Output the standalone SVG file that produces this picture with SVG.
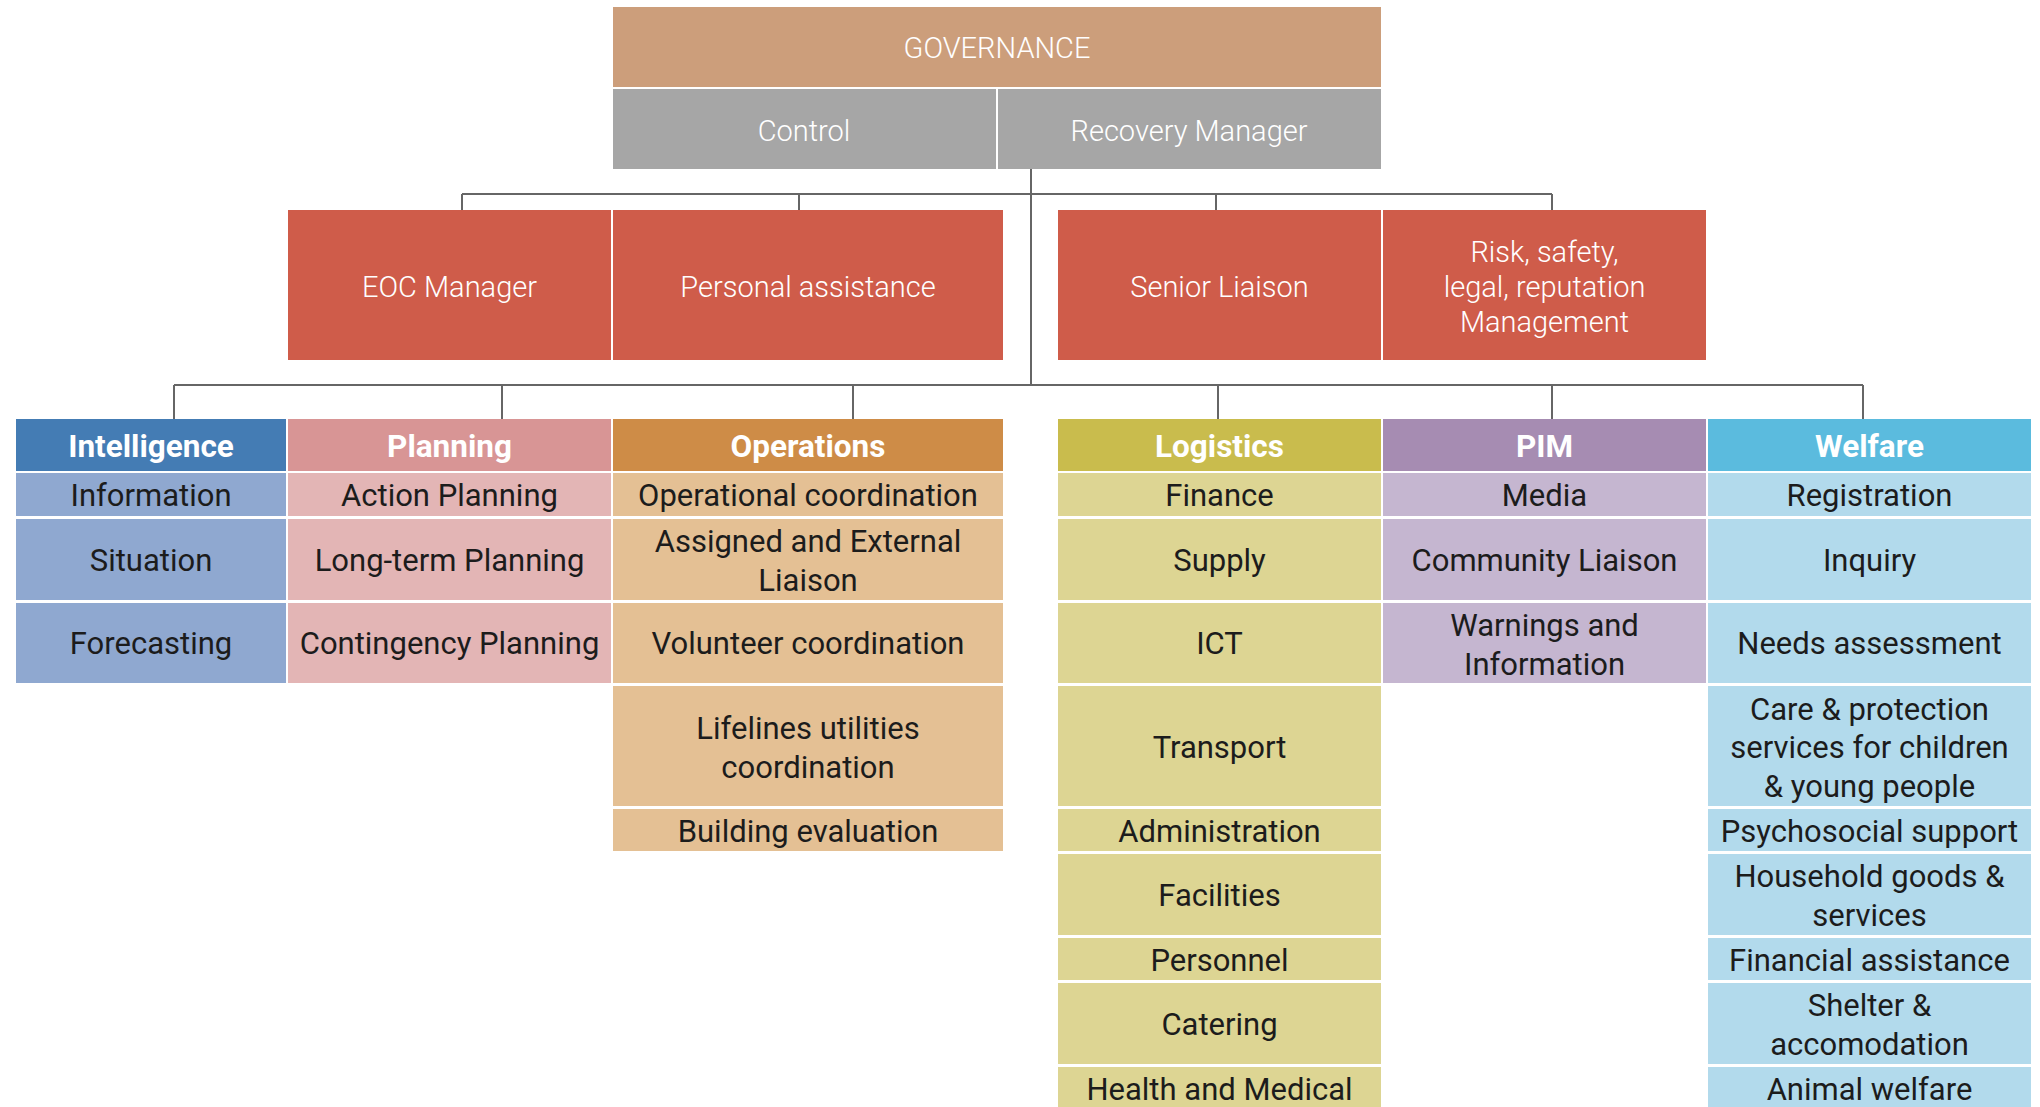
<svg xmlns="http://www.w3.org/2000/svg" width="2040" height="1107" viewBox="0 0 2040 1107">
<style>
text{font-family:Roboto,"Liberation Sans",sans-serif;text-anchor:middle}
.top{fill:#fff;font-size:29px;font-weight:300}
.hd{fill:#fff;font-size:31.5px;font-weight:700}
.bd{fill:#1c1c1c;font-size:31px}
.ln{stroke:#666;stroke-width:2;fill:none}
.gov{fill:#CC9E7B}.gry{fill:#A6A6A6}.red{fill:#CF5C4A}
.h1{fill:#447CB4}.r1{fill:#8FA8D0}
.h2{fill:#D89595}.r2{fill:#E3B5B5}
.h3{fill:#CE8C47}.r3{fill:#E4C094}
.h4{fill:#C9BC4D}.r4{fill:#DDD593}
.h5{fill:#A68CB2}.r5{fill:#C5B6D0}
.h6{fill:#5BBBDE}.r6{fill:#B2DAEC}
</style>
<rect width="2040" height="1107" fill="#fff"/>
<g id="connectors">
<path class="ln" d="M1031 169V385M462 194H1552M462 194V210M799 194V210M1216 194V210M1552 194V210M174 385H1863M174 385V419M502 385V419M853 385V419M1218 385V419M1552 385V419M1863 385V419"/>
</g>
<g id="governance"><rect class="gov" x="613" y="7" width="768" height="80"/><text class="top" x="997" y="58">GOVERNANCE</text></g>
<g id="control"><rect class="gry" x="613" y="89" width="383" height="80"/><text class="top" x="804" y="141">Control</text></g>
<g id="recovery-manager"><rect class="gry" x="998" y="89" width="383" height="80"/><text class="top" x="1189" y="141">Recovery Manager</text></g>
<g id="eoc-manager"><rect class="red" x="288" y="210" width="323" height="150"/><text class="top" x="449.5" y="297">EOC Manager</text></g>
<g id="personal-assistance"><rect class="red" x="613" y="210" width="390" height="150"/><text class="top" x="808" y="297">Personal assistance</text></g>
<g id="senior-liaison"><rect class="red" x="1058" y="210" width="323" height="150"/><text class="top" x="1219.5" y="297">Senior Liaison</text></g>
<g id="risk"><rect class="red" x="1383" y="210" width="323" height="150"/><text class="top" x="1544.5" y="262">Risk, safety,</text><text class="top" x="1544.5" y="297">legal, reputation</text><text class="top" x="1544.5" y="332">Management</text></g>

<g id="intelligence">
<rect class="h1" x="16" y="419" width="270" height="52"/><text class="hd" x="151" y="457">Intelligence</text>
<rect class="r1" x="16" y="473" width="270" height="43"/><text class="bd" x="151" y="506">Information</text>
<rect class="r1" x="16" y="519" width="270" height="81"/><text class="bd" x="151" y="571">Situation</text>
<rect class="r1" x="16" y="603" width="270" height="80"/><text class="bd" x="151" y="654">Forecasting</text>
</g>
<g id="planning">
<rect class="h2" x="288" y="419" width="323" height="52"/><text class="hd" x="449.5" y="457">Planning</text>
<rect class="r2" x="288" y="473" width="323" height="43"/><text class="bd" x="449.5" y="506">Action Planning</text>
<rect class="r2" x="288" y="519" width="323" height="81"/><text class="bd" x="449.5" y="571">Long-term Planning</text>
<rect class="r2" x="288" y="603" width="323" height="80"/><text class="bd" x="449.5" y="654">Contingency Planning</text>
</g>
<g id="operations">
<rect class="h3" x="613" y="419" width="390" height="52"/><text class="hd" x="808" y="457">Operations</text>
<rect class="r3" x="613" y="473" width="390" height="43"/><text class="bd" x="808" y="506">Operational coordination</text>
<rect class="r3" x="613" y="519" width="390" height="81"/><text class="bd" x="808" y="552">Assigned and External</text><text class="bd" x="808" y="591">Liaison</text>
<rect class="r3" x="613" y="603" width="390" height="80"/><text class="bd" x="808" y="654">Volunteer coordination</text>
<rect class="r3" x="613" y="686" width="390" height="120"/><text class="bd" x="808" y="739">Lifelines utilities</text><text class="bd" x="808" y="778">coordination</text>
<rect class="r3" x="613" y="809" width="390" height="42"/><text class="bd" x="808" y="842">Building evaluation</text>
</g>
<g id="logistics">
<rect class="h4" x="1058" y="419" width="323" height="52"/><text class="hd" x="1219.5" y="457">Logistics</text>
<rect class="r4" x="1058" y="473" width="323" height="43"/><text class="bd" x="1219.5" y="506">Finance</text>
<rect class="r4" x="1058" y="519" width="323" height="81"/><text class="bd" x="1219.5" y="571">Supply</text>
<rect class="r4" x="1058" y="603" width="323" height="80"/><text class="bd" x="1219.5" y="654">ICT</text>
<rect class="r4" x="1058" y="686" width="323" height="120"/><text class="bd" x="1219.5" y="758">Transport</text>
<rect class="r4" x="1058" y="809" width="323" height="42"/><text class="bd" x="1219.5" y="842">Administration</text>
<rect class="r4" x="1058" y="854" width="323" height="81"/><text class="bd" x="1219.5" y="906">Facilities</text>
<rect class="r4" x="1058" y="938" width="323" height="42"/><text class="bd" x="1219.5" y="971">Personnel</text>
<rect class="r4" x="1058" y="983" width="323" height="81"/><text class="bd" x="1219.5" y="1035">Catering</text>
<rect class="r4" x="1058" y="1067" width="323" height="45"/><text class="bd" x="1219.5" y="1100">Health and Medical</text>
</g>
<g id="pim">
<rect class="h5" x="1383" y="419" width="323" height="52"/><text class="hd" x="1544.5" y="457">PIM</text>
<rect class="r5" x="1383" y="473" width="323" height="43"/><text class="bd" x="1544.5" y="506">Media</text>
<rect class="r5" x="1383" y="519" width="323" height="81"/><text class="bd" x="1544.5" y="571">Community Liaison</text>
<rect class="r5" x="1383" y="603" width="323" height="80"/><text class="bd" x="1544.5" y="636">Warnings and</text><text class="bd" x="1544.5" y="675">Information</text>
</g>
<g id="welfare">
<rect class="h6" x="1708" y="419" width="323" height="52"/><text class="hd" x="1869.5" y="457">Welfare</text>
<rect class="r6" x="1708" y="473" width="323" height="43"/><text class="bd" x="1869.5" y="506">Registration</text>
<rect class="r6" x="1708" y="519" width="323" height="81"/><text class="bd" x="1869.5" y="571">Inquiry</text>
<rect class="r6" x="1708" y="603" width="323" height="80"/><text class="bd" x="1869.5" y="654">Needs assessment</text>
<rect class="r6" x="1708" y="686" width="323" height="120"/><text class="bd" x="1869.5" y="720">Care &amp; protection</text><text class="bd" x="1869.5" y="758">services for children</text><text class="bd" x="1869.5" y="797">&amp; young people</text>
<rect class="r6" x="1708" y="809" width="323" height="42"/><text class="bd" x="1869.5" y="842">Psychosocial support</text>
<rect class="r6" x="1708" y="854" width="323" height="81"/><text class="bd" x="1869.5" y="887">Household goods &amp;</text><text class="bd" x="1869.5" y="926">services</text>
<rect class="r6" x="1708" y="938" width="323" height="42"/><text class="bd" x="1869.5" y="971">Financial assistance</text>
<rect class="r6" x="1708" y="983" width="323" height="81"/><text class="bd" x="1869.5" y="1016">Shelter &amp;</text><text class="bd" x="1869.5" y="1055">accomodation</text>
<rect class="r6" x="1708" y="1067" width="323" height="45"/><text class="bd" x="1869.5" y="1100">Animal welfare</text>
</g>
</svg>
